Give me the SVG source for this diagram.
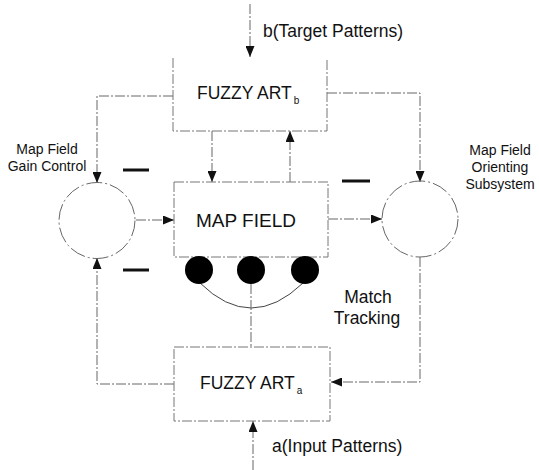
<svg xmlns="http://www.w3.org/2000/svg" width="539" height="470" viewBox="0 0 539 470">
<defs>
<style>
.ln{fill:none;stroke:#666;stroke-width:1;stroke-dasharray:10 2 2 2}
.bx{fill:none;stroke:#777;stroke-width:1;stroke-dasharray:10 2 2 2}
.cir{fill:none;stroke:#666;stroke-width:1;stroke-dasharray:16 3 2 3}
.t{font-family:"Liberation Sans",Arial,sans-serif;fill:#111}
.big{font-size:17.5px}
.mf{font-size:19px}
.sm{font-size:14px}
.sub{font-size:10px}
.minus{stroke:#111;stroke-width:3}
.dot{fill:#000}
</style>
<marker id="ah" markerUnits="userSpaceOnUse" markerWidth="12" markerHeight="9" refX="11" refY="4.5" orient="auto">
<path d="M0,0 L11,4.5 L0,9 z" fill="#111"/>
</marker>
</defs>
<g id="connectors">
<path class="ln" d="M250,4 V57" marker-end="url(#ah)"/>
<path class="ln" d="M212,131 V182" marker-end="url(#ah)"/>
<path class="ln" d="M290,182 V131" marker-end="url(#ah)"/>
<path class="ln" d="M173,96 H97 V183" marker-end="url(#ah)"/>
<path class="ln" d="M327,93 H420 V182" marker-end="url(#ah)"/>
<path class="ln" d="M136,220 H174" marker-end="url(#ah)"/>
<path class="ln" d="M328,219 H382" marker-end="url(#ah)"/>
<path class="ln" d="M420,257 V382 H331" marker-end="url(#ah)"/>
<path class="ln" d="M174,384 H97 V258" marker-end="url(#ah)"/>
<path class="ln" d="M253,470 V421" marker-end="url(#ah)"/>
<path d="M200,283 Q251,333 303,283" fill="none" stroke="#444" stroke-width="1"/>
<path class="ln" d="M251,284 V347"/>
</g>
<g id="fuzzy-art-b">
<path class="bx" d="M173,58 V131 H327 V58"/>
<text class="t big" x="197" y="99">FUZZY ART<tspan class="sub" dx="2" dy="5">b</tspan></text>
</g>
<g id="map-field">
<rect class="bx" x="174" y="182" width="154" height="75"/>
<text class="t mf" x="196" y="227">MAP FIELD</text>
</g>
<g id="fuzzy-art-a">
<rect class="bx" x="174" y="347" width="156" height="74"/>
<text class="t big" x="200" y="389">FUZZY ART<tspan class="sub" dx="2" dy="5">a</tspan></text>
</g>
<g id="gain-control">
<circle class="cir" cx="97" cy="220.5" r="38"/>
<text class="t sm" text-anchor="middle" x="47" y="154">Map Field</text>
<text class="t sm" text-anchor="middle" x="47" y="171">Gain Control</text>
<line class="minus" x1="123" y1="170" x2="149" y2="170"/>
<line class="minus" x1="123" y1="270" x2="149" y2="270"/>
</g>
<g id="orienting-subsystem">
<circle class="cir" cx="420" cy="219" r="38"/>
<text class="t sm" text-anchor="middle" x="500" y="155">Map Field</text>
<text class="t sm" text-anchor="middle" x="500" y="172">Orienting</text>
<text class="t sm" text-anchor="middle" x="500" y="189">Subsystem</text>
<line class="minus" x1="342" y1="181" x2="370" y2="181"/>
</g>
<g id="match-nodes">
<circle class="dot" cx="199" cy="270" r="14"/>
<circle class="dot" cx="251" cy="270" r="14"/>
<circle class="dot" cx="305" cy="270" r="14"/>
</g>
<g id="labels">
<text class="t big" x="263" y="37">b(Target Patterns)</text>
<text class="t big" x="272" y="452">a(Input Patterns)</text>
<text class="t big" text-anchor="middle" x="368" y="303">Match</text>
<text class="t big" text-anchor="middle" x="367" y="324">Tracking</text>
</g>
</svg>
